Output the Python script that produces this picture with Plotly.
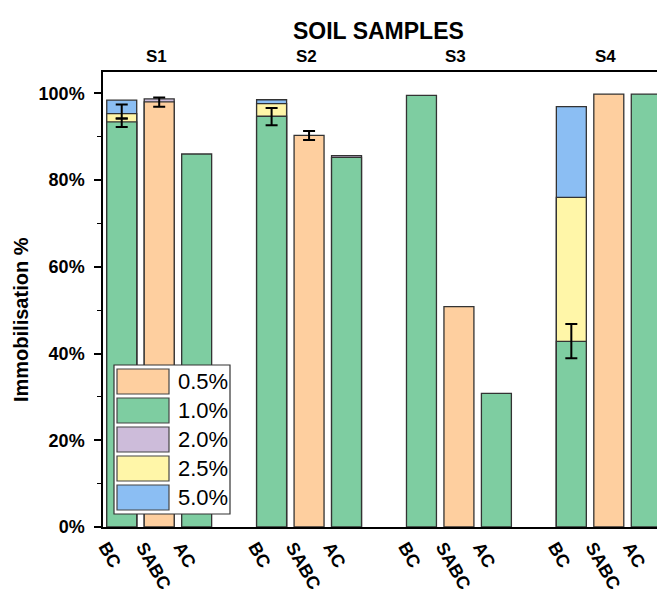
import plotly.graph_objects as go

# ---- data ----
samples = ["S1", "S2", "S3", "S4"]
materials = ["BC", "SABC", "AC"]
series_names = ["0.5%", "1.0%", "2.0%", "2.5%", "5.0%"]
series_colors = ["#FECF9F", "#7ECDA1", "#CDBCDA", "#FFF6A8", "#8BBEF3"]

# values per (sample, material), None = no bar
# order of cells: S1-BC, S1-SABC, S1-AC, S2-BC, ..., S4-AC
v05 = [None, 98.0, None, None, 90.3, None, None, 50.8, None, None, 99.8, None]
v10 = [93.4, None, 86.0, 94.7, None, 85.2, 99.5, None, 30.8, 42.8, None, 99.8]
v20 = [None, 98.7, None, None, None, 85.6, None, None, None, None, None, None]
v25 = [95.3, None, None, 97.6, None, None, None, None, None, 76.0, None, None]
v50 = [98.4, None, None, 98.5, None, None, None, None, None, 96.9, None, None]

e05_plus = [None, 1.0, None, None, 1.0, None, None, None, None, None, None, None]
e05_minus = [None, 1.1, None, None, 1.1, None, None, None, None, None, None, None]
e10_plus = [0.8, None, None, 1.9, None, None, None, None, None, 4.0, None, None]
e10_minus = [1.2, None, None, 2.1, None, None, None, None, None, 3.9, None, None]
e25_plus = [2.1, None, None, None, None, None, None, None, None, None, None, None]
e25_minus = [1.1, None, None, None, None, None, None, None, None, None, None, None]

y_ticks = [0, 20, 40, 60, 80, 100]
y_ticklabels = ["0%", "20%", "40%", "60%", "80%", "100%"]

# ---- positions on a numeric axis: one empty slot between sample groups ----
xpos = [g * 4 + i for g in range(len(samples)) for i in range(len(materials))]
xlabels = [m for _ in samples for m in materials]

values = {"0.5%": v05, "1.0%": v10, "2.0%": v20, "2.5%": v25, "5.0%": v50}
errs = {
    "0.5%": (e05_plus, e05_minus),
    "1.0%": (e10_plus, e10_minus),
    "2.5%": (e25_plus, e25_minus),
}
color_of = dict(zip(series_names, series_colors))

fig = go.Figure()
draw_order = ["5.0%", "2.5%", "2.0%", "1.0%", "0.5%"]
for name in draw_order:
    vals = values[name]
    ep, em = errs.get(name, ([None] * len(vals), [None] * len(vals)))
    with_err = [i for i, v in enumerate(vals) if v is not None and ep[i] is not None]
    no_err = [i for i, v in enumerate(vals) if v is not None and ep[i] is None]
    marker = dict(color=color_of[name], line=dict(color="#333333", width=1.3))
    if no_err:
        fig.add_trace(go.Bar(
            x=[xpos[i] for i in no_err], y=[vals[i] for i in no_err],
            name=name, legendgroup=name, width=0.8, marker=marker, showlegend=False))
    if with_err:
        fig.add_trace(go.Bar(
            x=[xpos[i] for i in with_err], y=[vals[i] for i in with_err],
            name=name, legendgroup=name, width=0.8, marker=marker, showlegend=False,
            error_y=dict(type="data", array=[ep[i] for i in with_err],
                         arrayminus=[em[i] for i in with_err], symmetric=False,
                         color="black", thickness=2, width=6)))

# ---- layout geometry (page pixels; the page body adds an 8px offset) ----
OFF = 8
PW, PH = 665, 593                 # page size
plot_l, plot_r, plot_t, plot_b = 103, 665, 72, 527   # plot area in page pixels
W, H = PW - OFF, PH - OFF
L, R, T, B = plot_l - OFF, PW - plot_r, plot_t - OFF, PH - plot_b
pw, ph = plot_r - plot_l, plot_b - plot_t

def px2x(px):
    return (px - plot_l) / pw

def px2y(py):
    return (plot_b - py) / ph

fig.update_layout(
    width=W, height=H, barmode="overlay",
    margin=dict(l=L, r=R, t=T, b=B, autoexpand=False),
    plot_bgcolor="white", paper_bgcolor="white",
    font=dict(family="Arial, Liberation Sans, sans-serif", color="black"),
)
fig.update_xaxes(
    range=[-0.5, 14.5], tickmode="array", tickvals=xpos, ticktext=xlabels,
    tickangle=60, tickfont=dict(size=18, weight="bold"),
    showline=True, linecolor="black", linewidth=1.5, mirror=True,
    ticks="", showgrid=False, zeroline=False, ticklabelshift=-16, ticklabelstandoff=1,
    automargin=False,
)
fig.update_yaxes(
    range=[0, 104.9], tickmode="array", tickvals=y_ticks, ticktext=y_ticklabels,
    tickfont=dict(size=18, weight="bold"),
    showline=True, linecolor="black", linewidth=1.5, mirror=False,
    ticks="outside", ticklen=7, tickwidth=1.5, tickcolor="black",
    minor=dict(dtick=10, tick0=0, ticks="outside", ticklen=4, tickwidth=1.2, tickcolor="black"),
    showgrid=False, zeroline=False, automargin=False, ticklabelstandoff=6,
)

ann = []
ann.append(dict(text="<b>SOIL SAMPLES</b>", xref="paper", yref="paper",
                x=px2x(378), y=px2y(31), showarrow=False, font=dict(size=23),
                xanchor="center", yanchor="middle"))
for g, s in enumerate(samples):
    ann.append(dict(text="<b>%s</b>" % s, xref="x", yref="paper", x=g * 4 + 1,
                    y=px2y(57), showarrow=False, font=dict(size=17), xshift=-3,
                    xanchor="center", yanchor="middle"))
ann.append(dict(text="<b>Immobilisation %</b>", xref="paper", yref="paper",
                x=px2x(21), y=px2y(320), showarrow=False, textangle=-90,
                font=dict(size=20), xanchor="center", yanchor="middle"))

# ---- custom legend (large swatches, as in the reference) ----
shapes = []
shapes.append(dict(type="rect", xref="paper", yref="paper",
                   x0=px2x(114), x1=px2x(230), y0=px2y(514), y1=px2y(365),
                   fillcolor="white", line=dict(color="#333333", width=1.2), layer="above"))
row0, step = 381.5, 29
for k, name in enumerate(series_names):
    cy = row0 + k * step
    shapes.append(dict(type="rect", xref="paper", yref="paper",
                       x0=px2x(117), x1=px2x(169), y0=px2y(cy + 12.5), y1=px2y(cy - 12.5),
                       fillcolor=color_of[name], line=dict(color="#444444", width=1.2),
                       layer="above"))
    ann.append(dict(text=name, xref="paper", yref="paper", x=px2x(176), y=px2y(cy),
                    showarrow=False, font=dict(size=22), xanchor="left", yanchor="middle"))

fig.update_layout(annotations=ann, shapes=shapes)
fig.write_html("out.html")
